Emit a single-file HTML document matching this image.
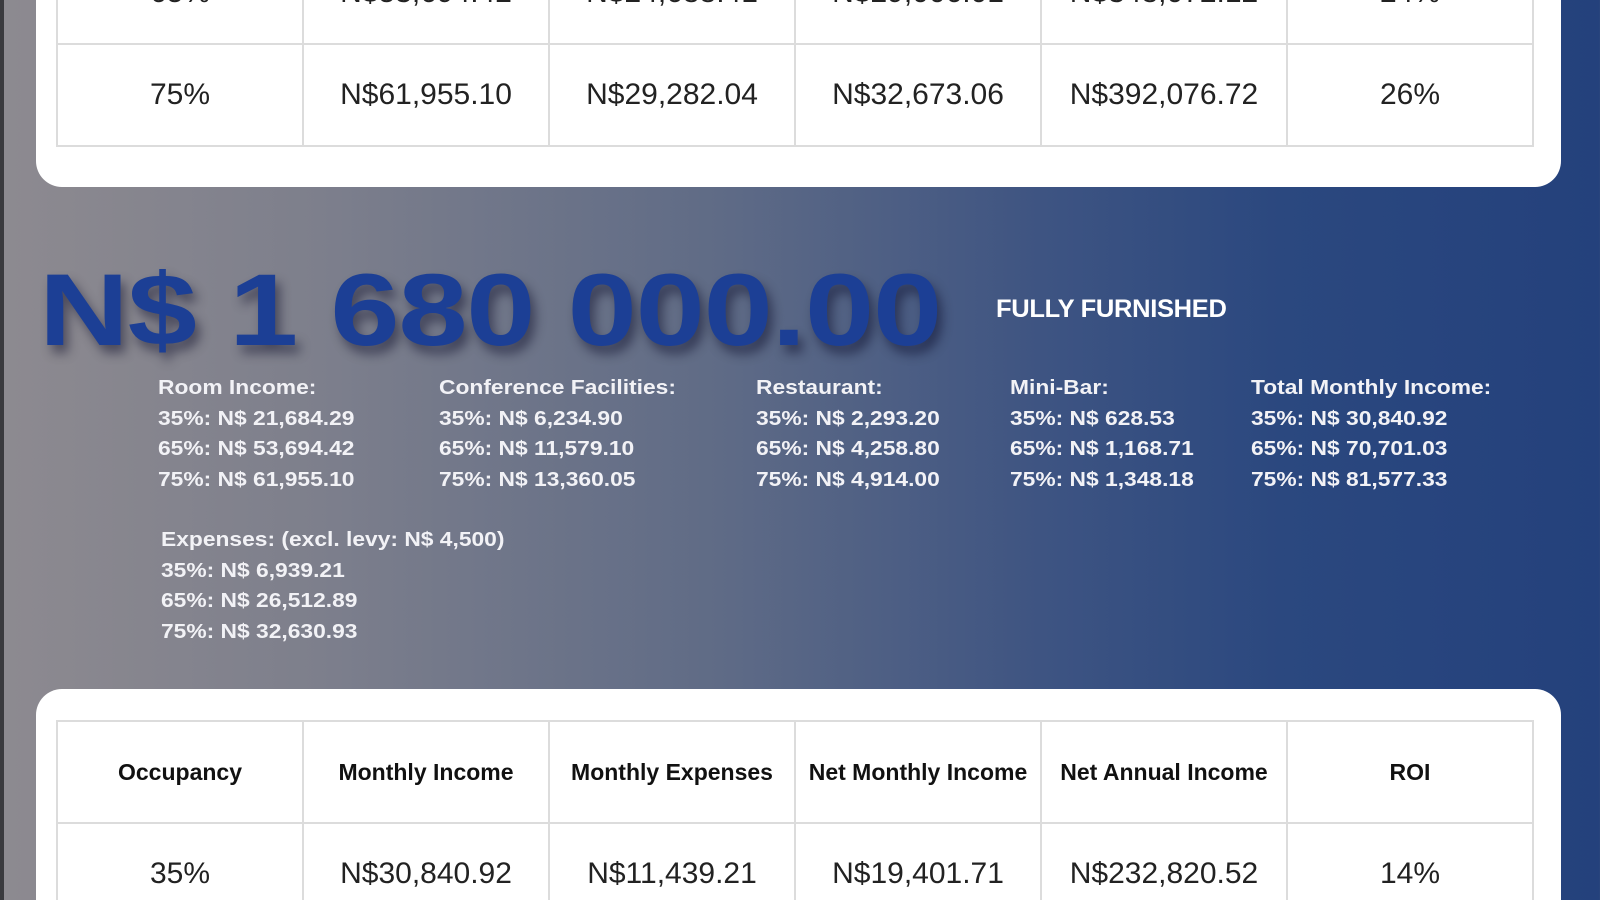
<!DOCTYPE html>
<html style="overflow:hidden;width:1600px;height:900px"><head><meta charset="utf-8"><style>
*{margin:0;padding:0;box-sizing:border-box}
body{width:1600px;height:900px;overflow:hidden;position:relative;font-family:"Liberation Sans",sans-serif;
background:linear-gradient(90deg,#8d8a90 0%,#7d7f8c 20%,#5f6b86 45%,#3e5482 65%,#2b487f 80%,#24417c 100%)}
.strip{position:absolute;left:0;top:0;width:4px;height:900px;background:#3a3a3e}
.card{position:absolute;left:36px;width:1525px;background:#fff}
.t{position:absolute;left:56px;width:1476px;border-collapse:collapse;table-layout:fixed}
.t td{border:2px solid #dcdcdc;text-align:center;color:#222;font-size:30px;height:102px;width:246px}
.t td.h{font-weight:bold;font-size:23px;color:#111}
.price{position:absolute;left:39px;top:252px;font-size:102px;font-weight:bold;color:#1c3f95;white-space:nowrap;transform-origin:0 0;transform:scaleX(1.22);text-shadow:4px 8px 10px rgba(0,0,30,.45);letter-spacing:-1px}
.ff{position:absolute;left:996px;top:295px;font-size:25px;color:#fff;font-weight:bold;transform-origin:0 0;transform:scaleX(1.02);letter-spacing:-.3px}
.col{position:absolute;color:#f2f2f6;font-size:20px;font-weight:bold;line-height:30.7px;white-space:nowrap;transform-origin:0 0;transform:scaleX(1.14)}
</style></head><body>
<div class="strip"></div>
<div class="card" style="top:-30px;height:217px;border-radius:0 0 26px 26px"></div>
<table class="t" style="top:-59px"><tr><td>65%</td><td>N$53,694.42</td><td>N$24,688.41</td><td>N$29,006.01</td><td>N$348,072.12</td><td>24%</td></tr>
<tr><td>75%</td><td>N$61,955.10</td><td>N$29,282.04</td><td>N$32,673.06</td><td>N$392,076.72</td><td>26%</td></tr></table>

<div class="price">N$ 1 680 000.00</div>
<div class="ff">FULLY FURNISHED</div>

<div class="col" style="left:158px;top:373px">Room Income:<br>35%: N$ 21,684.29<br>65%: N$ 53,694.42<br>75%: N$ 61,955.10</div>
<div class="col" style="left:439px;top:373px">Conference Facilities:<br>35%: N$ 6,234.90<br>65%: N$ 11,579.10<br>75%: N$ 13,360.05</div>
<div class="col" style="left:756px;top:373px">Restaurant:<br>35%: N$ 2,293.20<br>65%: N$ 4,258.80<br>75%: N$ 4,914.00</div>
<div class="col" style="left:1010px;top:373px">Mini-Bar:<br>35%: N$ 628.53<br>65%: N$ 1,168.71<br>75%: N$ 1,348.18</div>
<div class="col" style="left:1251px;top:373px">Total Monthly Income:<br>35%: N$ 30,840.92<br>65%: N$ 70,701.03<br>75%: N$ 81,577.33</div>
<div class="col" style="left:161px;top:525px">Expenses: (excl. levy: N$ 4,500)<br>35%: N$ 6,939.21<br>65%: N$ 26,512.89<br>75%: N$ 32,630.93</div>

<div class="card" style="top:689px;height:211px;border-radius:26px 26px 0 0"></div>
<table class="t" style="top:720px"><tr><td class="h">Occupancy</td><td class="h">Monthly Income</td><td class="h">Monthly Expenses</td><td class="h">Net Monthly Income</td><td class="h">Net Annual Income</td><td class="h">ROI</td></tr>
<tr><td>35%</td><td>N$30,840.92</td><td>N$11,439.21</td><td>N$19,401.71</td><td>N$232,820.52</td><td>14%</td></tr></table>
</body></html>
